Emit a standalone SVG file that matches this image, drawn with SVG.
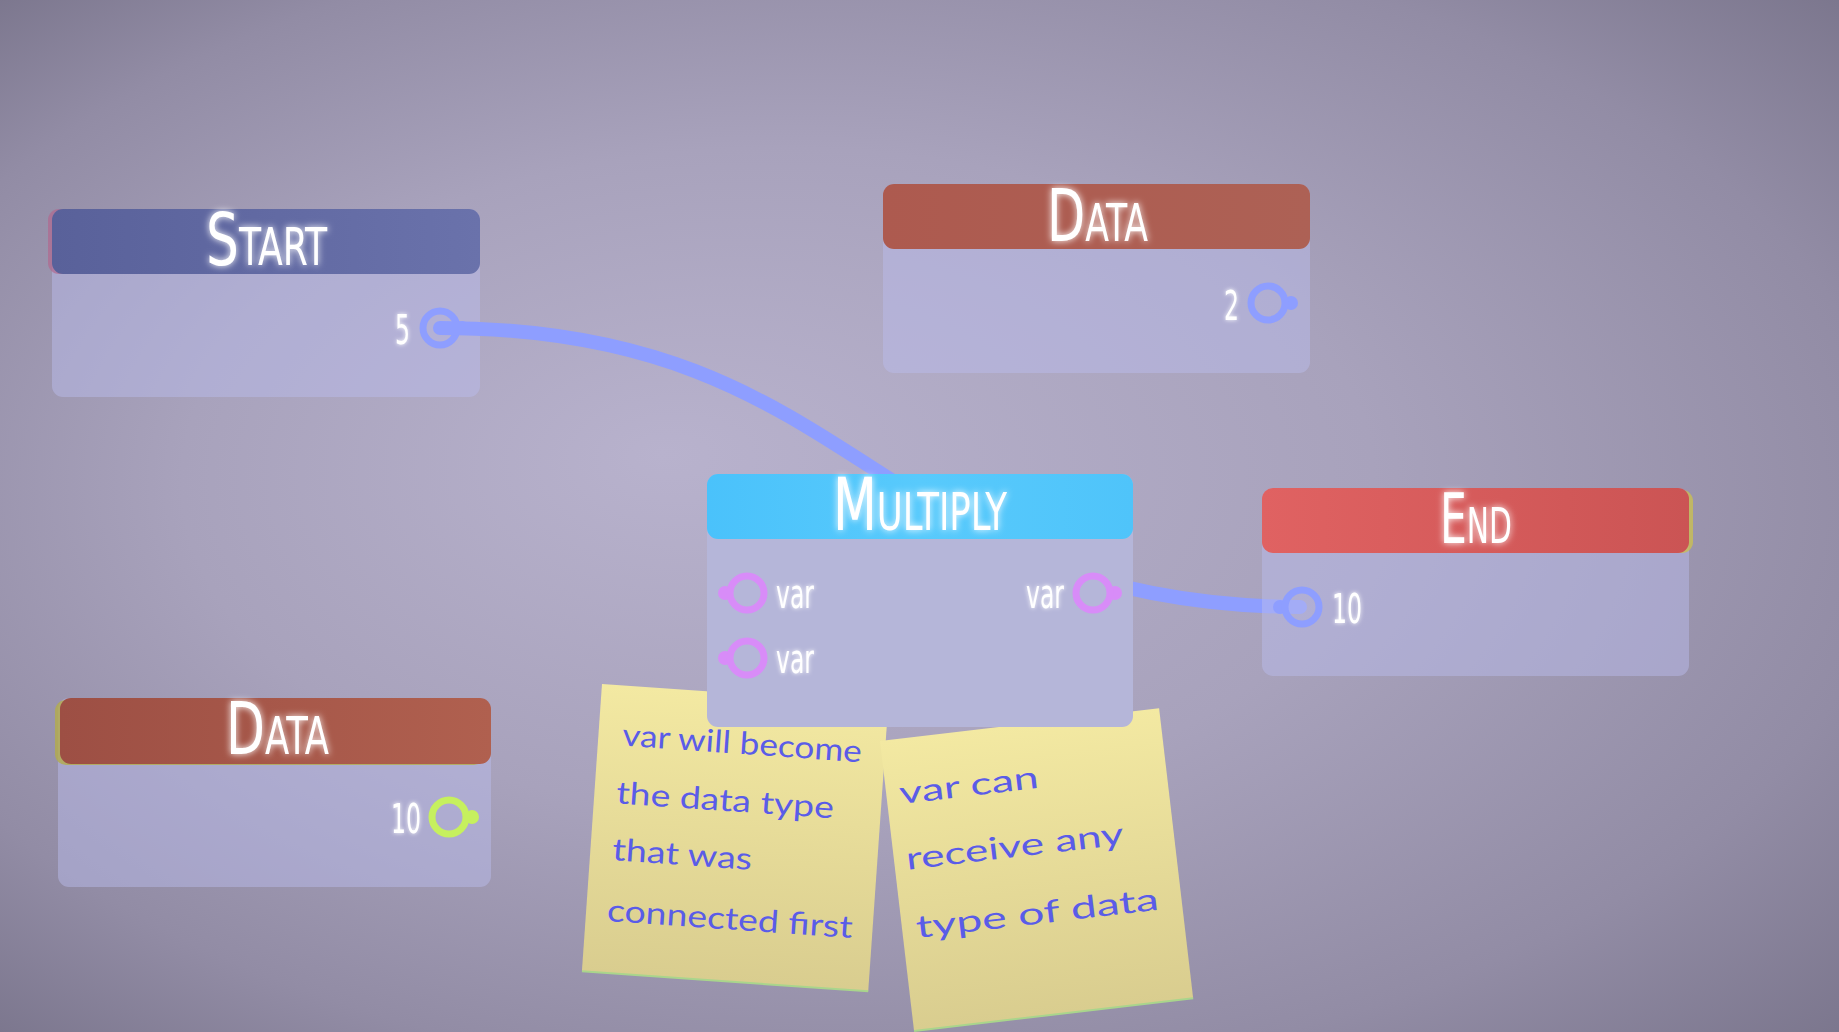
<svg xmlns="http://www.w3.org/2000/svg" width="1839" height="1032" viewBox="0 0 1839 1032">
<defs>
<radialGradient id="bg" cx="0.5" cy="0.5" fx="0.36" fy="0.44" r="0.72">
<stop offset="0" stop-color="#b8b2cd"/>
<stop offset="0.45" stop-color="#a8a2bc"/>
<stop offset="0.78" stop-color="#928ca5"/>
<stop offset="1" stop-color="#7a758c"/>
</radialGradient>
<linearGradient id="hStart" x1="0" x2="1" y1="0" y2="0"><stop offset="0" stop-color="#59619a"/><stop offset="1" stop-color="#6a72ab"/></linearGradient>
<linearGradient id="hData" x1="0" x2="1" y1="0" y2="0"><stop offset="0" stop-color="#ad5a4f"/><stop offset="1" stop-color="#ad6155"/></linearGradient>
<linearGradient id="hData2" x1="0" x2="1" y1="0" y2="0"><stop offset="0" stop-color="#9d4f44"/><stop offset="1" stop-color="#b0604f"/></linearGradient>
<linearGradient id="hMul" x1="0" x2="1" y1="0" y2="0"><stop offset="0" stop-color="#4ac2fb"/><stop offset="0.5" stop-color="#58cafc"/><stop offset="1" stop-color="#4fc4fa"/></linearGradient>
<linearGradient id="hEnd" x1="0" x2="1" y1="0" y2="0"><stop offset="0" stop-color="#e06262"/><stop offset="1" stop-color="#cb5454"/></linearGradient>
<linearGradient id="note" x1="0" x2="0" y1="0" y2="1"><stop offset="0" stop-color="#f3e9a2"/><stop offset="1" stop-color="#d9cd8f"/></linearGradient>
<filter id="glow" x="-20%" y="-30%" width="140%" height="160%">
<feGaussianBlur in="SourceGraphic" stdDeviation="3.5" result="b"/>
<feMerge><feMergeNode in="b"/><feMergeNode in="SourceGraphic"/></feMerge>
</filter>
<filter id="glow2" x="-20%" y="-30%" width="140%" height="160%">
<feGaussianBlur in="SourceGraphic" stdDeviation="2" result="b"/>
<feMerge><feMergeNode in="b"/><feMergeNode in="SourceGraphic"/></feMerge>
</filter>
</defs>
<style>
.body{fill:#b9bcec;fill-opacity:0.48}
.title{font-family:"Liberation Sans Narrow","DejaVu Sans Condensed","Liberation Sans",sans-serif;fill:#ffffff;font-size:73px;font-variant:small-caps;text-anchor:middle}
.lbl{font-family:"Liberation Sans Narrow","DejaVu Sans Condensed","Liberation Sans",sans-serif;fill:#ffffff;font-size:40px}
.ring{fill:none;stroke-width:7}
.blue{stroke:#8e9eff}
.blueF{fill:#8e9eff}
.pur{stroke:#d88cf8}
.purF{fill:#d88cf8}
.grn{stroke:#c6f05e}
.grnF{fill:#c6f05e}
.note{fill:url(#note)}
.edge{fill:none;stroke:#a9d58c;stroke-width:2}
.hand{font-family:Lato,"Open Sans",sans-serif;font-weight:400;font-size:31px;fill:#5a5ce8}
.wire{fill:none;stroke:#8e9eff;stroke-width:14;stroke-linecap:round}
</style>
<rect x="0" y="0" width="1839" height="1032" fill="url(#bg)"/>

<g id="node-start">
<rect x="52" y="209" width="428" height="188" rx="11" class="body"/>
<rect x="48" y="209" width="428" height="65" rx="11" fill="#b0688f" opacity="0.7"/>
<rect x="52" y="209" width="428" height="65" rx="11" fill="url(#hStart)"/>
<text class="title" x="266.5" y="265" textLength="121" lengthAdjust="spacingAndGlyphs" filter="url(#glow)">Start</text>
<text class="lbl" x="395" y="344" textLength="15" lengthAdjust="spacingAndGlyphs" filter="url(#glow2)">5</text>
<circle cx="462" cy="328" r="7" class="blueF"/>
<circle cx="440" cy="328" r="17" class="ring blue"/>
</g>

<g id="node-data-top">
<rect x="883" y="184" width="427" height="189" rx="11" class="body"/>
<rect x="883" y="184" width="427" height="65" rx="11" fill="url(#hData)"/>
<text class="title" x="1097.5" y="241" textLength="101" lengthAdjust="spacingAndGlyphs" filter="url(#glow)">Data</text>
<text class="lbl" x="1224" y="320" textLength="15" lengthAdjust="spacingAndGlyphs" filter="url(#glow2)">2</text>
<circle cx="1291" cy="303" r="7" class="blueF"/>
<circle cx="1268" cy="303" r="17" class="ring blue"/>
</g>

<g id="node-data-bottom">
<rect x="58" y="698" width="433" height="189" rx="11" class="body"/>
<rect x="55" y="700" width="430" height="65" rx="11" fill="#b3ad4a" opacity="0.8"/>
<rect x="60" y="698" width="431" height="66" rx="11" fill="url(#hData2)"/>
<text class="title" x="277.5" y="754" textLength="103" lengthAdjust="spacingAndGlyphs" filter="url(#glow)">Data</text>
<text class="lbl" x="391" y="833" textLength="30" lengthAdjust="spacingAndGlyphs" filter="url(#glow2)">10</text>
<circle cx="472" cy="817" r="7" class="grnF"/>
<circle cx="449" cy="817" r="17" class="ring grn"/>
</g>

<g id="connectors">
<path class="wire" d="M440,328 C870,328 870,604 1300,607"/>
</g>

<g id="note-left" transform="translate(602,684) rotate(4)">
<rect x="0" y="0" width="287" height="288" class="note"/>
<line x1="0" y1="288" x2="287" y2="288" class="edge"/>
<text class="hand" x="24" y="60" textLength="240" lengthAdjust="spacingAndGlyphs">var will become</text>
<text class="hand" x="22" y="118" textLength="218" lengthAdjust="spacingAndGlyphs">the data type</text>
<text class="hand" x="22" y="175" textLength="140" lengthAdjust="spacingAndGlyphs">that was</text>
<text class="hand" x="21" y="236" textLength="246" lengthAdjust="spacingAndGlyphs">connected first</text>
</g>

<g id="note-right" transform="translate(880,741) rotate(-6.7)">
<rect x="0" y="0" width="281" height="292" class="note"/>
<line x1="0" y1="292" x2="281" y2="292" class="edge"/>
<text class="hand" x="13" y="65" textLength="140" lengthAdjust="spacingAndGlyphs">var can</text>
<text class="hand" x="12" y="131" textLength="219" lengthAdjust="spacingAndGlyphs">receive any</text>
<text class="hand" x="14" y="200" textLength="244" lengthAdjust="spacingAndGlyphs">type of data</text>
</g>

<g id="node-multiply">
<rect x="707" y="474" width="426" height="253" rx="11" fill="#b5b6d9"/>
<rect x="707" y="474" width="426" height="65" rx="11" fill="url(#hMul)"/>
<text class="title" x="920" y="530" textLength="174" lengthAdjust="spacingAndGlyphs" filter="url(#glow)">Multiply</text>
<circle cx="725" cy="593" r="7" class="purF"/>
<circle cx="747" cy="593" r="17" class="ring pur"/>
<text class="lbl" x="776" y="608" textLength="38" lengthAdjust="spacingAndGlyphs" filter="url(#glow2)">var</text>
<circle cx="725" cy="658" r="7" class="purF"/>
<circle cx="747" cy="658" r="17" class="ring pur"/>
<text class="lbl" x="776" y="673" textLength="38" lengthAdjust="spacingAndGlyphs" filter="url(#glow2)">var</text>
<circle cx="1115" cy="593" r="7" class="purF"/>
<circle cx="1093" cy="593" r="17" class="ring pur"/>
<text class="lbl" x="1026" y="608" textLength="38" lengthAdjust="spacingAndGlyphs" filter="url(#glow2)">var</text>
</g>

<g id="node-end">
<rect x="1262" y="488" width="427" height="188" rx="11" class="body"/>
<rect x="1266" y="490" width="427" height="63" rx="11" fill="#c9bf52" opacity="0.8"/>
<rect x="1262" y="488" width="427" height="65" rx="11" fill="url(#hEnd)"/>
<text class="title" x="1476" y="543" style="font-size:70px" textLength="72" lengthAdjust="spacingAndGlyphs" filter="url(#glow)">End</text>
<circle cx="1280" cy="607" r="7" class="blueF"/>
<circle cx="1302" cy="607" r="17" class="ring blue"/>
<text class="lbl" x="1332" y="623" textLength="30" lengthAdjust="spacingAndGlyphs" filter="url(#glow2)">10</text>
</g>
</svg>
